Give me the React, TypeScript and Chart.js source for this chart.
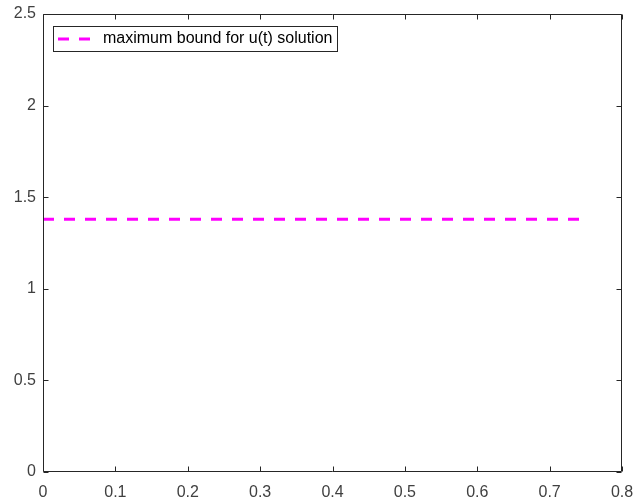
import React, { useEffect, useRef } from 'react';
import { Chart, registerables } from 'chart.js';

Chart.register(...registerables);

// ---- data ----
const tValues = [0, 0.75];
const boundValues = [1.38, 1.38];
const xTickValues = [0, 0.1, 0.2, 0.3, 0.4, 0.5, 0.6, 0.7, 0.8];
const yTickValues = [0, 0.5, 1, 1.5, 2, 2.5];
const seriesLabel = 'maximum bound for u(t) solution';

const FONT = '"Liberation Sans", Arial, sans-serif';
const AXIS_COLOR = '#262626';
const TICK_COLOR = '#404040';
const LINE_COLOR = '#ff00ff';
const DASH = [11, 10];

const boxPlugin = {
  id: 'matlabBox',
  afterDraw(chart: any) {
    const ctx = chart.ctx;
    const a = chart.chartArea;
    const xs = chart.scales.x;
    const ys = chart.scales.y;
    ctx.save();
    ctx.strokeStyle = AXIS_COLOR;
    ctx.lineWidth = 1;
    const L = Math.round(a.left) + 0.5;
    const R = Math.round(a.right) - 0.5;
    const T = Math.round(a.top) + 0.5;
    const B = Math.round(a.bottom) - 0.5;
    ctx.beginPath();
    ctx.rect(L, T, R - L, B - T);
    const tl = 5;
    xTickValues.forEach((v) => {
      const px = Math.round(xs.getPixelForValue(v)) + 0.5;
      ctx.moveTo(px, B);
      ctx.lineTo(px, B - tl);
      ctx.moveTo(px, T);
      ctx.lineTo(px, T + tl);
    });
    yTickValues.forEach((v) => {
      const py = Math.round(ys.getPixelForValue(v)) + 0.5;
      ctx.moveTo(L, py);
      ctx.lineTo(L + tl, py);
      ctx.moveTo(R, py);
      ctx.lineTo(R - tl, py);
    });
    ctx.stroke();

    // legend
    const lx = 53, ly = 26, lw = 284, lh = 25;
    ctx.fillStyle = '#ffffff';
    ctx.fillRect(lx, ly, lw, lh);
    ctx.strokeStyle = AXIS_COLOR;
    ctx.strokeRect(lx + 0.5, ly + 0.5, lw, lh);
    const cy = ly + lh / 2 + 0.5;
    ctx.strokeStyle = LINE_COLOR;
    ctx.lineWidth = 3;
    ctx.setLineDash(DASH);
    ctx.beginPath();
    ctx.moveTo(lx + 5, cy);
    ctx.lineTo(lx + 37, cy);
    ctx.stroke();
    ctx.setLineDash([]);
    ctx.fillStyle = '#000000';
    ctx.font = `16px ${FONT}`;
    ctx.textBaseline = 'middle';
    ctx.textAlign = 'left';
    ctx.fillText(chart.data.datasets[0].label, lx + 50, cy);
    ctx.restore();
  },
};

export default function App() {
  const ref = useRef<HTMLCanvasElement | null>(null);
  useEffect(() => {
    document.body.style.margin = '0';
    const canvas = ref.current;
    if (!canvas) return;
    const chart = new Chart(canvas, {
      type: 'line',
      data: {
        datasets: [
          {
            label: seriesLabel,
            data: tValues.map((t, i) => ({ x: t, y: boundValues[i] })),
            borderColor: LINE_COLOR,
            backgroundColor: LINE_COLOR,
            borderWidth: 3,
            borderDash: DASH,
            pointRadius: 0,
            fill: false,
            tension: 0,
          },
        ],
      },
      options: {
        animation: false,
        responsive: false,
        devicePixelRatio: 1,
        layout: { padding: { top: 14, right: 14, left: 0, bottom: 0 } },
        plugins: { legend: { display: false }, tooltip: { enabled: false } },
        scales: {
          x: {
            type: 'linear',
            min: 0,
            max: 0.8,
            grid: { display: false, drawTicks: false },
            border: { display: false },
            afterBuildTicks: (s: any) => {
              s.ticks = xTickValues.map((v) => ({ value: v }));
            },
            afterFit: (s: any) => {
              s.height = 32;
              s.paddingLeft = 0;
              s.paddingRight = 0;
            },
            ticks: {
              autoSkip: false,
              maxRotation: 0,
              padding: 11,
              color: TICK_COLOR,
              font: { family: FONT, size: 16 },
              callback: (v: any) => String(Math.round(Number(v) * 10) / 10),
            },
          },
          y: {
            type: 'linear',
            min: 0,
            max: 2.5,
            grid: { display: false, drawTicks: false },
            border: { display: false },
            afterBuildTicks: (s: any) => {
              s.ticks = yTickValues.map((v) => ({ value: v }));
            },
            afterFit: (s: any) => {
              s.width = 43;
              s.paddingTop = 0;
              s.paddingBottom = 0;
            },
            ticks: {
              autoSkip: false,
              padding: 7,
              color: TICK_COLOR,
              font: { family: FONT, size: 16 },
              callback: (v: any) => String(Math.round(Number(v) * 10) / 10),
            },
          },
        },
      },
      plugins: [boxPlugin],
    });
    return () => chart.destroy();
  }, []);
  return <canvas ref={ref} width={636} height={504} style={{ display: 'block' }} />;
}
